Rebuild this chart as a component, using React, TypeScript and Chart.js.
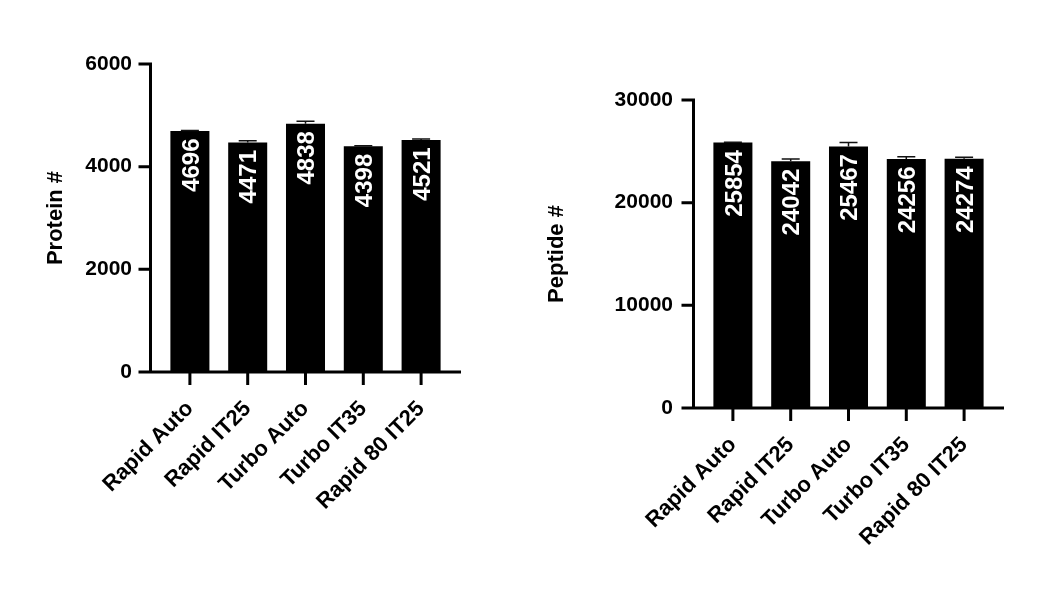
import { useEffect, useRef } from "react"
import { Chart, registerables } from "chart.js"

Chart.register(...registerables)

const categories = ["Rapid Auto", "Rapid IT25", "Turbo Auto", "Turbo IT35", "Rapid 80 IT25"]

const proteinCounts = [4696, 4471, 4838, 4398, 4521]
const proteinErrors = [10, 35, 45, 10, 20]
const proteinTicks = [0, 2000, 4000, 6000]

const peptideCounts = [25854, 24042, 25467, 24256, 24274]
const peptideErrors = [30, 200, 390, 220, 150]
const peptideTicks = [0, 10000, 20000, 30000]

const FONT = "'Liberation Sans', Arial, Helvetica, sans-serif"
const tickFont = { family: FONT, size: 21, weight: "bold" as const }
const categoryFont = { family: FONT, size: 22, weight: "bold" as const }

type Area = { left: number; top: number; right: number; bottom: number }

type PanelProps = {
  title: string
  values: number[]
  errors: number[]
  ticks: number[]
  area: Area
  titleX: number
  labelGap: number
}

function BarPanel({ title, values, errors, ticks, area, titleX, labelGap }: PanelProps) {
  const canvasRef = useRef<HTMLCanvasElement>(null)

  useEffect(() => {
    if (!canvasRef.current) return
    const ctx = canvasRef.current.getContext("2d")
    if (!ctx) return

    const W = 531
    const H = 590

    // axes, error bars, in-bar labels and the rotated axis title
    const prismLook = {
      id: "prismLook",
      afterDatasetsDraw(chart: Chart) {
        const c = chart.ctx
        const a = chart.chartArea
        const xs = chart.scales.x
        const ys = chart.scales.y
        const bars = chart.getDatasetMeta(0).data as any[]
        c.save()

        // values inside bars
        c.fillStyle = "#fff"
        c.font = `bold 24px ${FONT}`
        c.textAlign = "right"
        c.textBaseline = "alphabetic"
        bars.forEach((bar, i) => {
          c.save()
          c.translate(bar.x, bar.y + 7.5)
          c.rotate(-Math.PI / 2)
          c.fillText(String(values[i]), 0, 8.6)
          c.restore()
        })

        // error bars
        c.strokeStyle = "#111"
        c.lineWidth = 1.5
        bars.forEach((bar, i) => {
          const top = ys.getPixelForValue(values[i] + errors[i])
          c.beginPath()
          c.moveTo(bar.x, bar.y)
          c.lineTo(bar.x, top)
          c.moveTo(bar.x - 9, top)
          c.lineTo(bar.x + 9, top)
          c.stroke()
        })

        // axis lines and ticks
        const ax = a.left - 10.5
        c.strokeStyle = "#000"
        c.lineWidth = 3
        c.lineCap = "butt"
        c.beginPath()
        c.moveTo(ax, a.top - 1.5)
        c.lineTo(ax, a.bottom)
        ticks.forEach((v) => {
          const py = ys.getPixelForValue(v)
          c.moveTo(ax - 12, py)
          c.lineTo(ax + 1.5, py)
        })
        c.moveTo(ax - 12, a.bottom)
        c.lineTo(a.right + 11, a.bottom)
        categories.forEach((_, i) => {
          const px = xs.getPixelForValue(i)
          c.moveTo(px, a.bottom)
          c.lineTo(px, a.bottom + 13)
        })
        c.stroke()

        // y title
        c.fillStyle = "#000"
        c.font = `bold 22px ${FONT}`
        c.textAlign = "center"
        c.translate(titleX, (a.top + a.bottom) / 2)
        c.rotate(-Math.PI / 2)
        c.fillText(title, 0, 7.9)
        c.restore()
      },
    }

    const chart = new Chart(ctx, {
      type: "bar",
      data: {
        labels: categories,
        datasets: [
          {
            data: values,
            backgroundColor: "#000",
            borderWidth: 0,
            categoryPercentage: 1,
            barPercentage: 0.675,
          },
        ],
      },
      options: {
        responsive: false,
        animation: false,
        layout: {
          padding: { left: 0, top: area.top, right: W - area.right, bottom: 0 },
        },
        plugins: {
          legend: { display: false },
          tooltip: { enabled: false },
        },
        scales: {
          x: {
            grid: { display: false, drawTicks: false },
            border: { display: false },
            ticks: {
              color: "#000",
              font: categoryFont,
              maxRotation: 45,
              minRotation: 45,
              padding: 24,
              autoSkip: false,
            },
            afterFit: (scale: any) => {
              scale.height = H - area.bottom
            },
          },
          y: {
            min: 0,
            max: ticks[ticks.length - 1],
            grid: { display: false, drawTicks: false },
            border: { display: false },
            ticks: {
              color: "#000",
              font: tickFont,
              stepSize: ticks[1] - ticks[0],
              padding: labelGap,
              callback: (v: any) => String(v),
            },
            afterFit: (scale: any) => {
              scale.width = area.left
            },
          },
        },
      },
      plugins: [prismLook],
    })

    return () => {
      chart.destroy()
    }
  }, [title, values, errors, ticks, area, titleX, labelGap])

  return <canvas ref={canvasRef} width={531} height={590} />
}

const proteinArea = { left: 161, top: 64, right: 450, bottom: 372 }
const peptideArea = { left: 173, top: 100, right: 462, bottom: 408 }

export default function App() {
  return (
    <div style={{ position: "absolute", left: 0, top: 0, width: 1062, height: 590, background: "#fff" }}>
      <div style={{ position: "absolute", left: 0, top: 0 }}>
        <BarPanel
          title="Protein #"
          values={proteinCounts}
          errors={proteinErrors}
          ticks={proteinTicks}
          area={proteinArea}
          titleX={54}
          labelGap={29}
        />
      </div>
      <div style={{ position: "absolute", left: 531, top: 0 }}>
        <BarPanel
          title="Peptide #"
          values={peptideCounts}
          errors={peptideErrors}
          ticks={peptideTicks}
          area={peptideArea}
          titleX={24}
          labelGap={31}
        />
      </div>
    </div>
  )
}
